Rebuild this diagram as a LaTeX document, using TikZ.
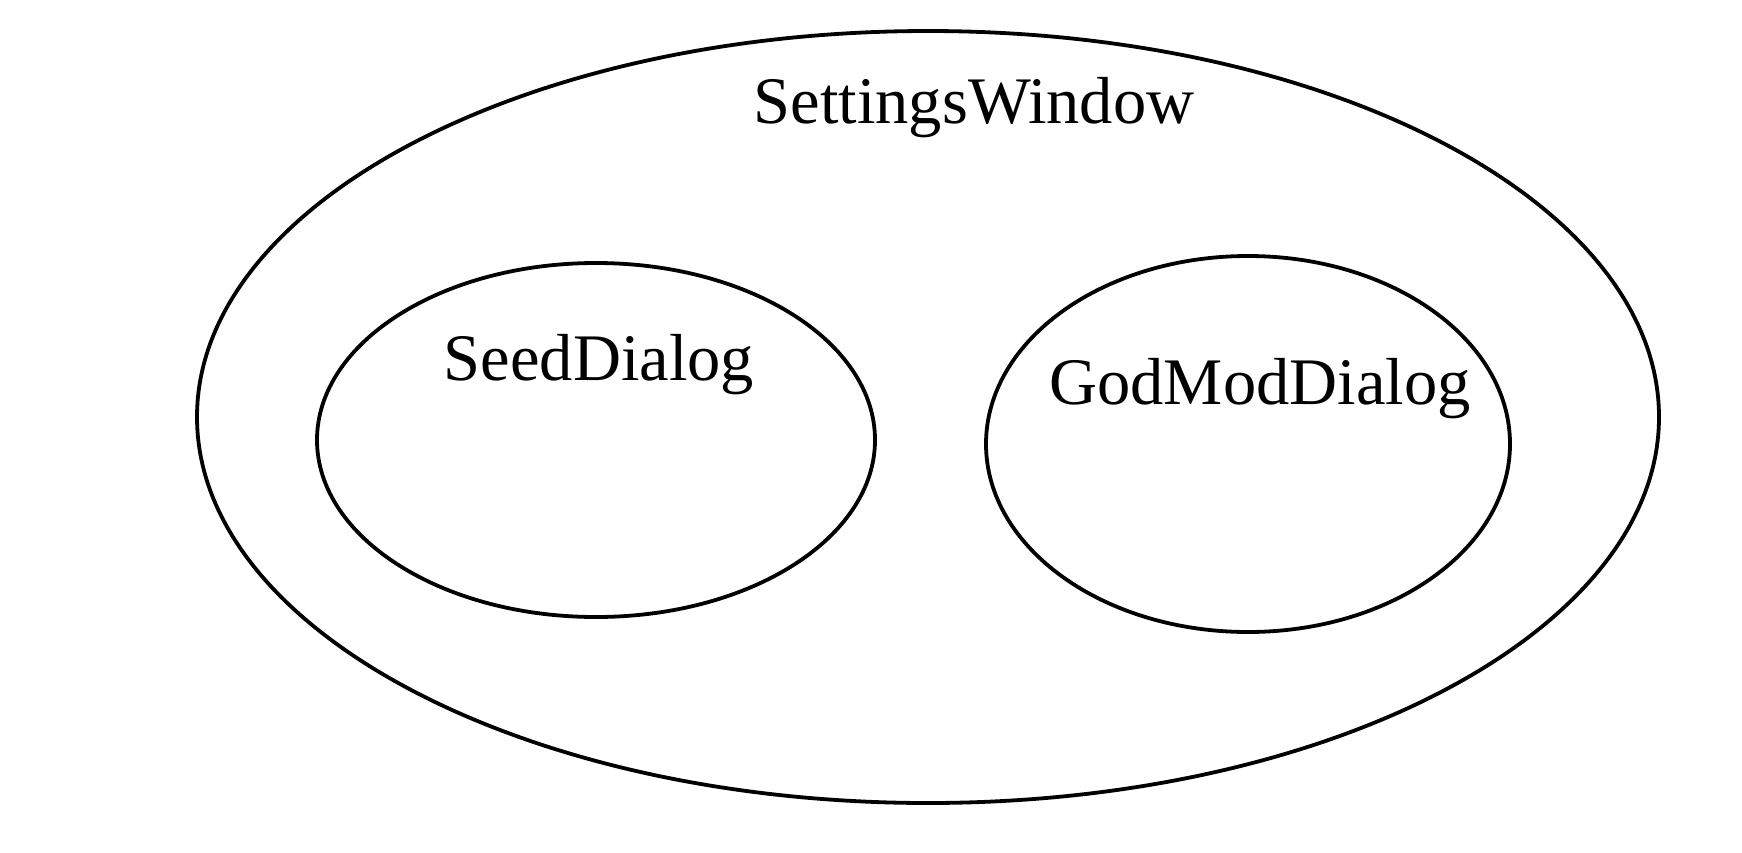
\documentclass[tikz,border=0pt]{standalone}
\usepackage{fontspec}
\setmainfont{Liberation Serif}
\usetikzlibrary{shapes.geometric}
\begin{document}
\begin{tikzpicture}[x=1pt,y=-1pt,
  ell/.style={draw=black,line width=3.8pt},
  lbl/.style={font=\fontsize{66.5}{78}\selectfont,inner sep=0pt,anchor=base}]
\useasboundingbox (0,0) rectangle (1742,852);
\fill[white] (0,0) rectangle (1742,852);
\draw[ell] (928,417) ellipse [x radius=731, y radius=386];
\draw[ell] (596,440) ellipse [x radius=279, y radius=177];
\draw[ell] (1248,444) ellipse [x radius=262, y radius=188];
\node[lbl] (sw) at (974,123) {SettingsWindow};
\node[lbl] (sd) at (599,380) {SeedDialog};
\node[lbl] (gd) at (1260,404) {GodModDialog};
\end{tikzpicture}
\end{document}
